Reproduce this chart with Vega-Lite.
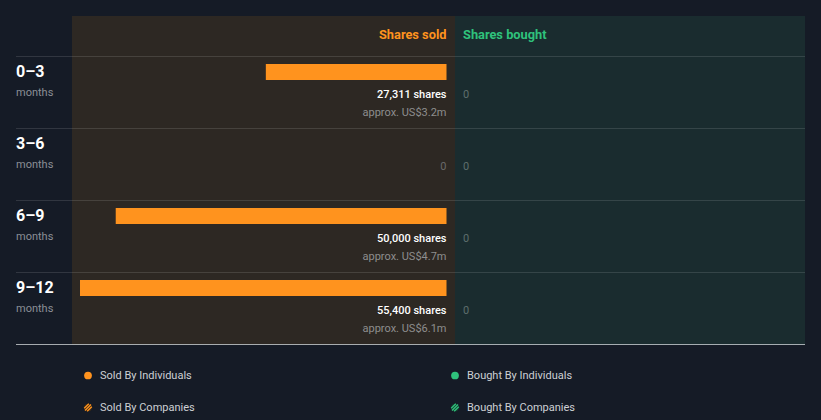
{
  "$schema": "https://vega.github.io/schema/vega-lite/v6.json",
  "background": "#151b26",
  "padding": {"left": 16, "right": 16, "top": 16, "bottom": 0},
  "spacing": 0,
  "config": {"view": {"stroke": null}, "font": "Roboto", "concat": {"spacing": 0}},
  "datasets": {
    "rows": [
      {"period": "0–3", "unit": "months", "sold": 27311, "soldText": "27,311 shares", "approx": "approx. US$3.2m", "bought": 0},
      {"period": "3–6", "unit": "months", "sold": 0, "soldText": "", "approx": "", "bought": 0},
      {"period": "6–9", "unit": "months", "sold": 50000, "soldText": "50,000 shares", "approx": "approx. US$4.7m", "bought": 0},
      {"period": "9–12", "unit": "months", "sold": 55400, "soldText": "55,400 shares", "approx": "approx. US$6.1m", "bought": 0}
    ],
    "legend": [
      {"side": "Sold", "by": "Individuals", "label": "Sold By Individuals"},
      {"side": "Bought", "by": "Individuals", "label": "Bought By Individuals"},
      {"side": "Sold", "by": "Companies", "label": "Sold By Companies"},
      {"side": "Bought", "by": "Companies", "label": "Bought By Companies"}
    ],
    "headSold": [{"label": "Shares sold"}],
    "headBought": [{"label": "Shares bought"}],
    "blank": [{"label": ""}],
    "bottom": [{"period": "9–12"}]
  },
  "vconcat": [
    {
      "spacing": 0,
      "bounds": "flush",
      "hconcat": [
        {
          "width": 56, "height": 40,
          "data": {"name": "blank"},
          "mark": {"type": "text"},
          "encoding": {"text": {"field": "label"}}
        },
        {
          "width": 383, "height": 40,
          "view": {"fill": "#2d2823", "stroke": null},
          "data": {"name": "headSold"},
          "mark": {"type": "text", "align": "right", "baseline": "middle", "dy": -1.5, "fontSize": 12.8, "fontWeight": "bold", "color": "#ff931e"},
          "encoding": {
            "x": {"datum": 0, "type": "quantitative", "scale": {"domain": [0, 55400], "range": [374.5, 8]}, "axis": null},
            "text": {"field": "label"}
          }
        },
        {
          "width": 350, "height": 40,
          "view": {"fill": "#1a2c2f", "stroke": null},
          "data": {"name": "headBought"},
          "mark": {"type": "text", "align": "left", "baseline": "middle", "dy": -1.5, "fontSize": 12.8, "fontWeight": "bold", "color": "#2fc27c"},
          "encoding": {
            "x": {"datum": 0, "type": "quantitative", "scale": {"domain": [0, 55400], "range": [8, 342]}, "axis": null},
            "text": {"field": "label"}
          }
        }
      ]
    },
    {
      "spacing": 0,
      "bounds": "flush",
      "hconcat": [
        {
          "width": 56, "height": 289,
          "data": {"name": "rows"},
          "encoding": {
            "y": {"field": "period", "type": "nominal", "sort": null, "scale": {"type": "band", "domain": ["0–3", "3–6", "6–9", "9–12"], "range": [0, 288], "paddingInner": 0, "paddingOuter": 0}, "axis": null}
          },
          "layer": [
            {"mark": {"type": "bar", "color": "#ffffff", "opacity": 0.12, "height": 1, "yOffset": -35.5}, "encoding": {}},
            {"data": {"name": "bottom"}, "mark": {"type": "bar", "color": "#c0c4c8", "opacity": 0.85, "height": 1, "yOffset": 36.5}, "encoding": {}},
            {"mark": {"type": "text", "align": "left", "baseline": "middle", "dy": -20.5, "fontSize": 16, "fontWeight": "bold", "color": "#ffffff"}, "encoding": {"x": {"value": 0}, "text": {"field": "period"}}},
            {"mark": {"type": "text", "align": "left", "baseline": "middle", "dy": 1, "fontSize": 11, "color": "#8b8f96"}, "encoding": {"x": {"value": 0}, "text": {"field": "unit"}}}
          ]
        },
        {
          "width": 383, "height": 289,
          "view": {"fill": "#2d2823", "stroke": null},
          "data": {"name": "rows"},
          "encoding": {
            "y": {"field": "period", "type": "nominal", "sort": null, "scale": {"type": "band", "domain": ["0–3", "3–6", "6–9", "9–12"], "range": [0, 288], "paddingInner": 0, "paddingOuter": 0}, "axis": null}
          },
          "layer": [
            {"mark": {"type": "bar", "color": "#ffffff", "opacity": 0.12, "height": 1, "yOffset": -35.5}, "encoding": {}},
            {"data": {"name": "bottom"}, "mark": {"type": "bar", "color": "#c0c4c8", "opacity": 0.85, "height": 1, "yOffset": 36.5}, "encoding": {}},
            {
              "transform": [{"filter": "datum.sold > 0"}],
              "mark": {"type": "bar", "color": "#ff931e", "height": 16, "yOffset": -20},
              "encoding": {
                "x": {"field": "sold", "type": "quantitative", "scale": {"domain": [0, 55400], "range": [374.5, 8], "zero": true, "nice": false}, "axis": null}
              }
            },
            {
              "transform": [{"filter": "datum.sold > 0"}],
              "mark": {"type": "text", "align": "right", "baseline": "middle", "dy": 3, "fontSize": 11, "fontWeight": 500, "color": "#ffffff"},
              "encoding": {"x": {"datum": 0, "type": "quantitative"}, "text": {"field": "soldText"}}
            },
            {
              "transform": [{"filter": "datum.sold > 0"}],
              "mark": {"type": "text", "align": "right", "baseline": "middle", "dy": 21, "fontSize": 11, "color": "#8e8e8e"},
              "encoding": {"x": {"datum": 0, "type": "quantitative"}, "text": {"field": "approx"}}
            },
            {
              "transform": [{"filter": "datum.sold == 0"}],
              "mark": {"type": "text", "align": "right", "baseline": "middle", "dy": 3, "fontSize": 11, "color": "#6a6a6a"},
              "encoding": {"x": {"datum": 0, "type": "quantitative"}, "text": {"field": "sold", "type": "quantitative", "format": ","}}
            }
          ]
        },
        {
          "width": 350, "height": 289,
          "view": {"fill": "#1a2c2f", "stroke": null},
          "data": {"name": "rows"},
          "encoding": {
            "y": {"field": "period", "type": "nominal", "sort": null, "scale": {"type": "band", "domain": ["0–3", "3–6", "6–9", "9–12"], "range": [0, 288], "paddingInner": 0, "paddingOuter": 0}, "axis": null}
          },
          "layer": [
            {"mark": {"type": "bar", "color": "#ffffff", "opacity": 0.12, "height": 1, "yOffset": -35.5}, "encoding": {}},
            {"data": {"name": "bottom"}, "mark": {"type": "bar", "color": "#c0c4c8", "opacity": 0.85, "height": 1, "yOffset": 36.5}, "encoding": {}},
            {
              "transform": [{"filter": "datum.bought > 0"}],
              "mark": {"type": "bar", "color": "#2fc27c", "height": 16, "yOffset": -20},
              "encoding": {
                "x": {"field": "bought", "type": "quantitative", "scale": {"domain": [0, 55400], "range": [8, 342], "zero": true, "nice": false}, "axis": null}
              }
            },
            {
              "transform": [{"filter": "datum.bought == 0"}],
              "mark": {"type": "text", "align": "left", "baseline": "middle", "dy": 3, "fontSize": 11, "color": "#5e6e6d"},
              "encoding": {"x": {"datum": 0, "type": "quantitative", "scale": {"domain": [0, 55400], "range": [8, 342], "zero": true, "nice": false}, "axis": null}, "text": {"field": "bought", "type": "quantitative", "format": ","}}
            }
          ]
        }
      ]
    },
    {
      "width": 789, "height": 75,
      "data": {"name": "legend"},
      "encoding": {
        "x": {"field": "side", "type": "nominal", "scale": {"type": "point", "domain": ["Sold", "Bought"], "range": [72, 439], "padding": 0}, "axis": null},
        "y": {"field": "by", "type": "nominal", "scale": {"type": "point", "domain": ["Individuals", "Companies"], "range": [30.5, 62.5], "padding": 0}, "axis": null}
      },
      "layer": [
        {
          "mark": {"type": "point", "shape": "circle", "filled": true, "size": 60, "opacity": 1},
          "encoding": {
            "fill": {"field": "label", "type": "nominal", "scale": {"domain": ["Sold By Individuals", "Bought By Individuals", "Sold By Companies", "Bought By Companies"], "range": ["#ff931e", "#2fc27c", "#3a2a18", "#163a2e"]}, "legend": null}
          }
        },
        {
          "transform": [{"filter": "datum.by == 'Companies'"}],
          "mark": {"type": "point", "shape": "M-0.75,0.75L0.75,-0.75M-0.95,0.2L0.2,-0.95M-0.2,0.95L0.95,-0.2", "filled": false, "size": 64, "strokeWidth": 1.3, "opacity": 1},
          "encoding": {
            "stroke": {"field": "side", "type": "nominal", "scale": {"domain": ["Sold", "Bought"], "range": ["#ff931e", "#2fc27c"]}, "legend": null}
          }
        },
        {
          "mark": {"type": "text", "align": "left", "baseline": "middle", "dx": 12, "fontSize": 11, "color": "#cdd0d4"},
          "encoding": {"text": {"field": "label"}}
        }
      ]
    }
  ]
}
